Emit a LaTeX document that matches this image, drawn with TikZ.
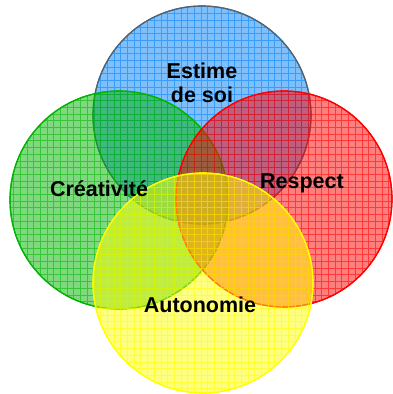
\documentclass[tikz,border=0pt]{standalone}
\usepackage{fontspec}
\setmainfont{Liberation Sans}
\usepackage{tikz}

\definecolor{estimeblue}{RGB}{0,130,250}
\definecolor{estimeline}{RGB}{95,95,95}
\definecolor{creagreen}{RGB}{0,180,0}
\definecolor{respred}{RGB}{255,0,0}
\definecolor{autoyellow}{RGB}{255,255,0}

\tikzset{
  disc/.style={fill=#1, fill opacity=0.5, draw=#1, line width=1.2pt,
    path picture={\draw[#1, opacity=0.55, line width=0.6pt, step=6.7pt]
      (path picture bounding box.south west) grid (path picture bounding box.north east);}},
  lbl/.style={font=\fontsize{21.5}{24}\selectfont\bfseries, align=center, text=black}
}

\begin{document}
\begin{tikzpicture}[x=1pt,y=-1pt]
	%Frame
      \useasboundingbox (0,0) rectangle (392,394);

      %Circles
      \path[disc=estimeblue] (202,115) circle (109);
      \draw[estimeline, line width=1.2pt] (202,115) circle (109);
      \path[disc=creagreen] (119,200) circle (109);
      \draw[creagreen, line width=1.2pt] (119,200) circle (109);
      \path[disc=respred] (284,199) circle (108);
      \draw[respred, line width=1.2pt] (284,199) circle (108);
      \path[disc=autoyellow] (203,283) circle (110);
      \draw[autoyellow, line width=1.2pt] (203,283) circle (110);

      %Labels
      \node[lbl] (estime) at (202,83) {Estime\\de soi};
      \node[lbl] (creativite) at (99,189) {Créativité};
      \node[lbl] (respect) at (302,183) {Respect};
      \node[lbl] (autonomie) at (200,305) {Autonomie};
\end{tikzpicture}
\end{document}
